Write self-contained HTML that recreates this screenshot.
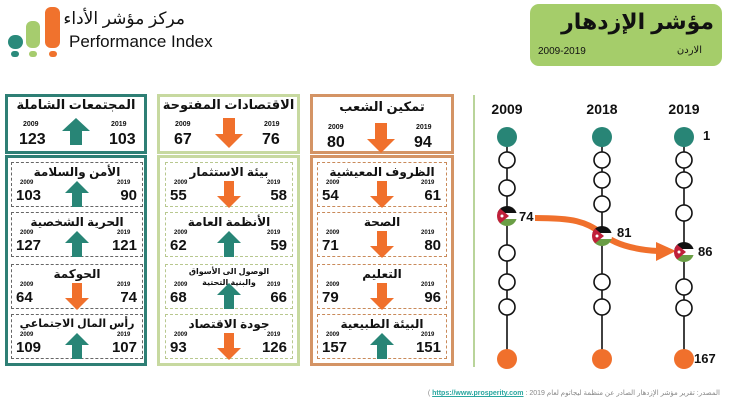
<!DOCTYPE html>
<html><head><meta charset="utf-8"><style>
*{margin:0;padding:0;box-sizing:border-box}
body{width:730px;height:400px;background:#fff;position:relative;overflow:hidden;font-family:"Liberation Sans","DejaVu Sans",sans-serif;color:#111}
.a{position:absolute}
.box{position:absolute;border:3px solid}
.card{position:absolute;border:1px dashed #666}
.t{position:absolute;left:0;right:0;text-align:center;font-weight:bold;white-space:nowrap}
.yr{position:absolute;font-size:7px;font-weight:bold}
.v{position:absolute;font-size:16px;font-weight:bold}
svg.ar{position:absolute}
</style></head><body>
<!-- logo -->
<div class="a" style="left:8px;top:35px;width:15px;height:14px;border-radius:7px;background:#2a8a7b"></div>
<div class="a" style="left:26px;top:21px;width:14px;height:27px;border-radius:6px;background:#a6cc6e"></div>
<div class="a" style="left:45px;top:7px;width:15px;height:41px;border-radius:6px;background:#f0722d"></div>
<div class="a" style="left:11px;top:51px;width:8px;height:6px;border-radius:4px;background:#2a8a7b"></div>
<div class="a" style="left:29px;top:51px;width:8px;height:6px;border-radius:4px;background:#a6cc6e"></div>
<div class="a" style="left:49px;top:51px;width:8px;height:6px;border-radius:4px;background:#f0722d"></div>
<div class="a" style="left:60px;top:9px;width:125px;font-size:17px;text-align:right;direction:rtl;white-space:nowrap">مركز مؤشر الأداء</div>
<div class="a" style="left:69px;top:32px;font-size:17px">Performance Index</div>
<!-- header -->
<div class="a" style="left:530px;top:4px;width:192px;height:62px;border-radius:9px;background:#a5cd6a"></div>
<div class="a" style="left:560px;top:9px;width:154px;text-align:right;font-size:22px;font-weight:bold;direction:rtl;white-space:nowrap">مؤشر الإزدهار</div>
<div class="a" style="left:538px;top:46px;font-size:10px">2009-2019</div>
<div class="a" style="left:660px;top:45px;width:42px;text-align:right;font-size:10px;direction:rtl">الاردن</div>

<!-- top boxes -->
<div class="box" style="left:5px;top:94px;width:142px;height:60px;border-color:#2e7f75"></div>
<div class="box" style="left:157px;top:94px;width:143px;height:60px;border-color:#c7d9a0"></div>
<div class="box" style="left:310px;top:94px;width:144px;height:60px;border-color:#d49465"></div>
<div class="t" style="left:5px;width:142px;top:97px;font-size:13px">المجتمعات الشاملة</div>
<div class="t" style="left:157px;width:143px;top:97px;font-size:13px">الاقتصادات المفتوحة</div>
<div class="t" style="left:310px;width:144px;top:99px;font-size:13px">تمكين الشعب</div>
<div class="yr" style="left:23px;top:121px">2009</div><div class="yr" style="left:111px;top:121px">2019</div>
<div class="v" style="left:19px;top:131px">123</div><div class="v" style="left:109px;top:131px">103</div>
<svg class="ar" style="left:62px;top:118px" width="28" height="27"><polygon points="14,0 28,13 20,13 20,27 8,27 8,13 0,13" fill="#288576"/></svg>
<div class="yr" style="left:175px;top:121px">2009</div><div class="yr" style="left:264px;top:121px">2019</div>
<div class="v" style="left:174px;top:131px">67</div><div class="v" style="left:262px;top:131px">76</div>
<svg class="ar" style="left:215px;top:118px" width="28" height="30"><polygon points="14,30 28,16 20,16 20,0 8,0 8,16 0,16" fill="#f0702c"/></svg>
<div class="yr" style="left:328px;top:124px">2009</div><div class="yr" style="left:416px;top:124px">2019</div>
<div class="v" style="left:327px;top:134px">80</div><div class="v" style="left:414px;top:134px">94</div>
<svg class="ar" style="left:367px;top:123px" width="28" height="30"><polygon points="14,30 28,16 20,16 20,0 8,0 8,16 0,16" fill="#f0702c"/></svg>

<!-- bottom boxes -->
<div class="box" style="left:5px;top:155px;width:142px;height:211px;border-color:#2e7f75"></div>
<div class="box" style="left:157px;top:155px;width:143px;height:211px;border-color:#c7d9a0"></div>
<div class="box" style="left:310px;top:155px;width:144px;height:211px;border-color:#d49465;background:#fff"></div>

<div id="cards"></div>
<script>
var cols=[{x:11,w:132,c:'#666'},{x:165,w:128,c:'#b8c88f'},{x:317,w:130,c:'#c98a5a'}];
var tops=[162,212,264,314];
var data=[
[["الأمن والسلامة",103,90,1],["الحرية الشخصية",127,121,1],["الحوكمة",64,74,0],["رأس المال الاجتماعي",109,107,1]],
[["بيئة الاستثمار",55,58,0],["الأنظمة العامة",62,59,1],["الوصول الى الأسواق والبنية التحتية",68,66,1],["جودة الاقتصاد",93,126,0]],
[["الظروف المعيشية",54,61,0],["الصحة",71,80,0],["التعليم",79,96,0],["البيئة الطبيعية",157,151,1]]];
var h='';
for(var i=0;i<3;i++){var C=cols[i];for(var j=0;j<4;j++){var d=data[i][j],y=tops[j],x=C.x,w=C.w;
h+='<div class="card" style="left:'+x+'px;top:'+y+'px;width:'+w+'px;height:45px;border-color:'+C.c+'"></div>';
var small=d[0].length>25;
if(small)h+='<div class="t" style="left:'+(x+20)+'px;width:'+(w-40)+'px;top:'+(y+2)+'px;font-size:8px;white-space:normal;line-height:11px;direction:rtl">'+d[0]+'</div>';
else h+='<div class="t" style="left:'+x+'px;width:'+w+'px;top:'+(y+3)+'px;font-size:'+(d[0].length>16?11:12)+'px;direction:rtl">'+d[0]+'</div>';
h+='<div class="yr" style="left:'+(x+9)+'px;top:'+(y+18)+'px;font-size:6px">2009</div>';
h+='<div class="yr" style="left:'+(x+w-26)+'px;top:'+(y+18)+'px;font-size:6px">2019</div>';
h+='<div class="v" style="left:'+(x+5)+'px;top:'+(y+25)+'px;font-size:15px">'+d[1]+'</div>';
h+='<div class="v" style="left:'+(x+w-38)+'px;top:'+(y+25)+'px;width:32px;text-align:right;font-size:15px">'+d[2]+'</div>';
var ax=x+w/2-12;
if(d[3])h+='<svg class="ar" style="left:'+ax+'px;top:'+(y+19)+'px" width="24" height="26"><polygon points="12,0 24,12 17,12 17,26 7,26 7,12 0,12" fill="#288576"/></svg>';
else h+='<svg class="ar" style="left:'+ax+'px;top:'+(y+19)+'px" width="24" height="27"><polygon points="12,27 24,15 17,15 17,0 7,0 7,15 0,15" fill="#f0702c"/></svg>';
}}
document.getElementById('cards').innerHTML=h;
</script>

<!-- divider -->
<div class="a" style="left:473px;top:95px;width:2px;height:272px;background:#b9d49a"></div>

<svg class="a" style="left:0;top:0" width="730" height="400">
<defs><clipPath id="fc"><circle cx="0" cy="0" r="10"/></clipPath>
<g id="flag"><g clip-path="url(#fc)"><rect x="-10" y="-10" width="20" height="7" fill="#111"/><rect x="-10" y="-3" width="20" height="6" fill="#fff"/><rect x="-10" y="3" width="20" height="7" fill="#6a9e45"/><polygon points="-10,-10 2,0 -10,10" fill="#c0203a"/><circle cx="-5" cy="0" r="1.5" fill="#fff"/></g></g></defs>
<g font-family="Liberation Sans" font-weight="bold" font-size="14" fill="#111" text-anchor="middle">
<text x="507" y="114">2009</text><text x="602" y="114">2018</text><text x="684" y="114">2019</text></g>
<g stroke="#111" stroke-width="1.6">
<line x1="507" y1="137" x2="507" y2="358"/><line x1="602" y1="137" x2="602" y2="358"/><line x1="684" y1="137" x2="684" y2="358"/></g>
<g fill="#fff" stroke="#111" stroke-width="1.6">
<circle cx="507" cy="160" r="8"/><circle cx="507" cy="188" r="8"/><circle cx="507" cy="253" r="8"/><circle cx="507" cy="282" r="8"/><circle cx="507" cy="307" r="8"/>
<circle cx="602" cy="160" r="8"/><circle cx="602" cy="180" r="8"/><circle cx="602" cy="204" r="8"/><circle cx="602" cy="282" r="8"/><circle cx="602" cy="307" r="8"/>
<circle cx="684" cy="160" r="8"/><circle cx="684" cy="180" r="8"/><circle cx="684" cy="213" r="8"/><circle cx="684" cy="287" r="8"/><circle cx="684" cy="308" r="8"/></g>
<g fill="#288576"><circle cx="507" cy="137" r="10"/><circle cx="602" cy="137" r="10"/><circle cx="684" cy="137" r="10"/></g>
<g fill="#f0702c"><circle cx="507" cy="359" r="10"/><circle cx="602" cy="359" r="10"/><circle cx="684" cy="359" r="10"/></g>
<path d="M535,218 C575,218 585,222 600,232 C615,246 640,250 658,251" fill="none" stroke="#f0702c" stroke-width="6"/>
<polygon points="656,242 676,251 656,261" fill="#f0702c"/>
<use href="#flag" x="507" y="216"/><use href="#flag" x="602" y="236"/><use href="#flag" x="684" y="252"/>
<g font-family="Liberation Sans" font-weight="bold" font-size="13" fill="#111">
<text x="519" y="221">74</text><text x="617" y="237">81</text><text x="698" y="256">86</text>
<text x="703" y="140">1</text><text x="694" y="363">167</text></g>
</svg>

<div class="a" style="left:380px;top:389px;width:340px;font-size:7px;color:#888;white-space:nowrap;text-align:right;direction:rtl">المصدر: تقرير مؤشر الإزدهار الصادر عن منظمة ليجاتوم لعام 2019 : <span style="color:#2aa7a0;text-decoration:underline;font-weight:bold">https://www.prosperity.com</span> )</div>
</body></html>
